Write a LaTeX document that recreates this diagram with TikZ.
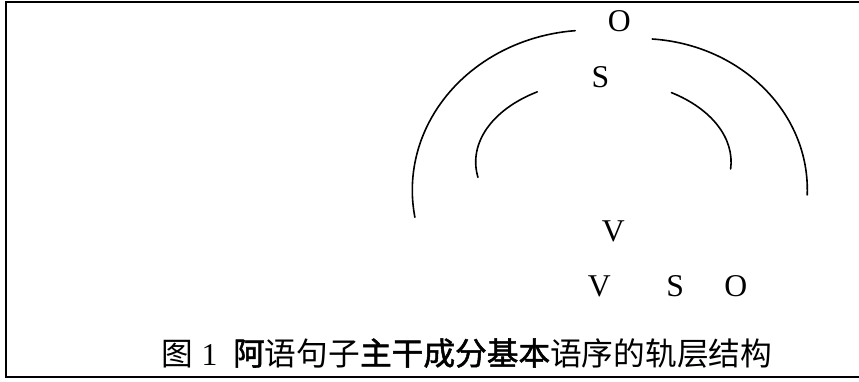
\documentclass[tikz,border=0pt]{standalone}
\usepackage{fontspec}
\setmainfont{Liberation Serif}
\newfontfamily\cjk{Noto Sans CJK SC}
\newfontfamily\cjkb[FakeBold=1.6]{Noto Sans CJK SC}
\begin{document}
\begin{tikzpicture}[x=1pt,y=1pt,
  lbl/.style={inner sep=0pt, anchor=base, font=\fontsize{31.7}{38}\selectfont},
  arcline/.style={line width=1.6pt, line cap=round},
  frameline/.style={line width=2pt}]
\useasboundingbox (0,0) rectangle (859,381);
% frame (open on the right)
\draw[frameline] (859,379) -- (6,379) -- (6,3.7) -- (859,3.7);
% outer arcs
\draw[arcline] ([shift={(94.8:177.7pt and 160pt)}]590,190.9)
  arc[start angle=94.8, end angle=189.8, x radius=177.7pt, y radius=160pt];
\draw[arcline] ([shift={(85.8:167.3pt and 151.1pt)}]640,191.3)
  arc[start angle=85.8, end angle=-2, x radius=167.3pt, y radius=151.1pt];
% inner arcs
\draw[arcline] ([shift={(121.2:127.7pt and 82pt)}]603.4,219)
  arc[start angle=121.2, end angle=190.8, x radius=127.7pt, y radius=82pt];
\draw[arcline] ([shift={(57.8:127.7pt and 82pt)}]603.4,219)
  arc[start angle=57.8, end angle=-4.9, x radius=127.7pt, y radius=82pt];
% letters
\node[lbl] (otop) at (619.2,349.7) {O};
\node[lbl] (stop) at (600.5,294) {S};
\node[lbl] (vmid) at (613.3,139.3) {V};
\node[lbl] (vb) at (599.2,84.5) {V};
\node[lbl] (sb) at (675.3,84.5) {S};
\node[lbl] (ob) at (735.8,84.5) {O};
% caption
\node[lbl] (cap) at (467,16) {{\cjk 图}\ 1\ \ {\cjkb 阿}{\cjk 语句子}{\cjkb 主干成分基本}{\cjk 语序的轨层结构}};
\end{tikzpicture}
\end{document}
